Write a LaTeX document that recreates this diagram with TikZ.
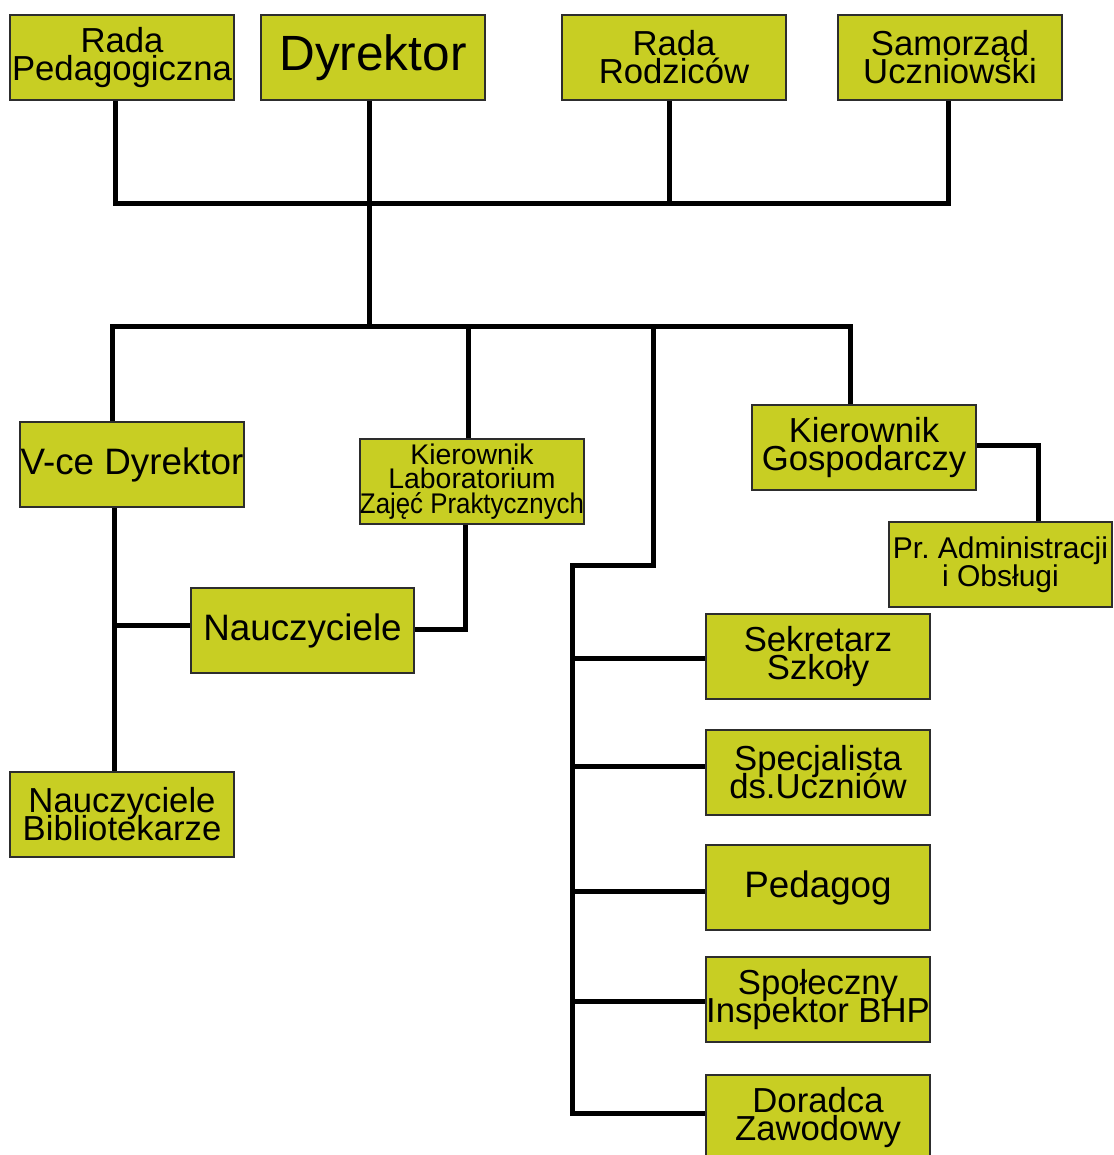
\documentclass[tikz,border=0pt]{standalone}
\usepackage{fontspec}
\usepackage{graphicx}
\setmainfont{Liberation Sans}
\frenchspacing
\definecolor{boxfill}{RGB}{200,206,35}
\definecolor{boxline}{RGB}{45,45,45}
\newcommand{\tightlines}{\lineskiplimit=-60pt\relax}
\tikzset{
  orgbox/.style={draw=boxline, line width=1.5pt, fill=boxfill, minimum width=224pt,
    minimum height=85pt, inner sep=0pt, align=center,
    font=\fontsize{34.7}{28}\selectfont\tightlines},
  bigtxt/.style={font=\fontsize{36.8}{30}\selectfont},
  hugetxt/.style={font=\fontsize{49.5}{40}\selectfont},
  smalltxt/.style={font=\fontsize{28.4}{24.5}\selectfont\tightlines},
  conn/.style={line width=5pt, draw=black, line join=miter}
}
\begin{document}
\begin{tikzpicture}[x=1pt,y=-1pt]
\useasboundingbox (0,0) rectangle (1113,1155);
\fill[white] (0,0) rectangle (1113,1155);
\clip (0,0) rectangle (1113,1155);
% top row
\node[orgbox] (rp) at (122,57.5) {Rada\\Pedagogiczna};
\node[orgbox,hugetxt] (dyr) at (373,57.5) {Dyrektor};
\node[orgbox] (rr) at (674,57.5) {Rada\\Rodziców};
\node[orgbox] (su) at (950,57.5) {Samorząd\\Uczniowski};
% second level
\node[orgbox,bigtxt] (vce) at (132,464.5) {V-ce Dyrektor};
\node[orgbox,smalltxt] (klzp) at (472,481.5) {Kierownik\\Laboratorium\\\scalebox{0.91}[1]{Zajęć Praktycznych}};
\node[orgbox] (kg) at (864,447.5) {Kierownik\\Gospodarczy};
\node[orgbox,minimum width=223pt,font=\fontsize{30}{28}\selectfont\tightlines] (pra) at (1000.5,564.5) {Pr. Administracji\\i Obsługi};
\node[orgbox,bigtxt,minimum width=223pt] (nau) at (302.5,630.5) {Nauczyciele};
\node[orgbox] (nb) at (122,814.5) {Nauczyciele\\Bibliotekarze};
% right column
\node[orgbox] (sek) at (818,656.5) {Sekretarz\\Szkoły};
\node[orgbox] (spec) at (818,772.5) {Specjalista\\ds.Uczniów};
\node[orgbox,bigtxt] (ped) at (818,887.5) {Pedagog};
\node[orgbox] (spol) at (818,999.5) {Społeczny\\Inspektor BHP};
\node[orgbox] (dor) at (818,1117.5) {Doradca\\Zawodowy};
% coordinates
\coordinate (t1) at (115,204);
\coordinate (t2) at (669,204);
\coordinate (t4) at (948,204);
\coordinate (d1) at (369,326);
\coordinate (v1) at (112,326);
\coordinate (k1) at (850,326);
\coordinate (l1) at (468,326);
\coordinate (r0) at (653,326);
\coordinate (r1) at (653,565);
\coordinate (r2) at (572,565);
\coordinate (r3) at (572,1113);
\coordinate (s1) at (572,658);
\coordinate (s2) at (572,766);
\coordinate (s3) at (572,891);
\coordinate (s4) at (572,1001);
\coordinate (n1) at (114,625);
\coordinate (m1) at (465,629);
\coordinate (g1) at (1038,445);
% connectors
\draw[conn] (t1 |- rp.south) -- (t1) -- (t4) -- (t4 |- su.south);
\draw[conn] (t2 |- rr.south) -- (t2);
\draw[conn] (d1 |- dyr.south) -- (d1);
\draw[conn] (v1 |- vce.north) -- (v1) -- (k1) -- (k1 |- kg.north);
\draw[conn] (l1 |- klzp.north) -- (l1);
\draw[conn] (r0) -- (r1) -- (r2) -- (r3) -- (r3 -| dor.west);
\draw[conn] (s1) -- (s1 -| sek.west);
\draw[conn] (s2) -- (s2 -| spec.west);
\draw[conn] (s3) -- (s3 -| ped.west);
\draw[conn] (s4) -- (s4 -| spol.west);
\draw[conn] (n1 |- vce.south) -- (n1 |- nb.north);
\draw[conn] (n1) -- (n1 -| nau.west);
\draw[conn] (m1 -| nau.east) -- (m1) -- (m1 |- klzp.south);
\draw[conn] (g1 -| kg.east) -- (g1) -- (g1 |- pra.north);
\end{tikzpicture}
\end{document}
